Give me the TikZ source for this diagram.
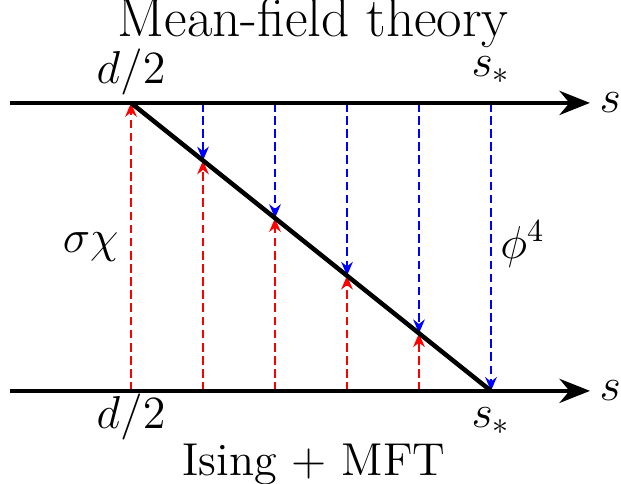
\documentclass[tikz,border=0pt]{standalone}
\usepackage{amsmath}
\usetikzlibrary{arrows.meta,calc}

\begin{document}
\begin{tikzpicture}[x=0.79cm,y=0.79cm,font=\Large,
    axis/.style={line width=1.4pt,-{Stealth[length=9.5pt,width=7.5pt]}},
    flowup/.style={red,line width=0.8pt,dash pattern=on 2.7pt off 1.4pt,
      -{Stealth[length=4.3pt,width=3.6pt]}},
    flowdown/.style={blue,line width=0.8pt,dash pattern=on 2.7pt off 1.4pt,
      -{Stealth[length=4.3pt,width=3.6pt]}}]
    \useasboundingbox (-1.82,-1.29) rectangle (6.806,5.43);
    % points on the two lines and on the diagonal
    \foreach \i in {0,...,5} {
      \coordinate (t\i) at (\i,4);
      \coordinate (b\i) at (\i,0);
      \coordinate (m\i) at (\i,{4-0.8*\i});
    }
    \coordinate (tl) at (-1.68,4);
    \coordinate (tr) at (6.375,4);
    \coordinate (bl) at (-1.68,0);
    \coordinate (br) at (6.375,0);
    \node[inner sep=0,anchor=west] (st) at (6.5,4) {$s$};
    \node[inner sep=0,anchor=west] (sb) at (6.5,0) {$s$};
    % flows
    \draw[flowup] (b0) -- (t0);
    \foreach \i in {1,...,4} {
      \draw[flowup] (b\i) -- (m\i);
      \draw[flowdown] (t\i) -- (m\i);
    }
    \draw[flowdown] (t5) -- (b5);
    % lines
    \draw[axis] (tl) -- (tr);
    \draw[axis] (bl) -- (br);
    \draw[line width=1.4pt] (t0) -- (b5);
    % labels
    \node[anchor=base,font=\LARGE,inner sep=0] (mft) at (2.53,4.92) {Mean-field theory};
    \node[anchor=base] (ising) at (2.54,-1.18) {Ising + MFT};
    \node[anchor=base,inner sep=1pt] (dtop) at (0,4.264) {$d/2$};
    \node[anchor=base,inner sep=1pt] (stop) at (5,4.361) {$s_*$};
    \node[anchor=base] (dbot) at (0,-0.528) {$d/2$};
    \node[anchor=base] (sbot) at (5,-0.514) {$s_*$};
    \node (sigchi) at (-0.56,2.0) {$\sigma\chi$};
    \node (phi) at (5.44,2.04) {$\phi^4$};
  \end{tikzpicture}
\end{document}
